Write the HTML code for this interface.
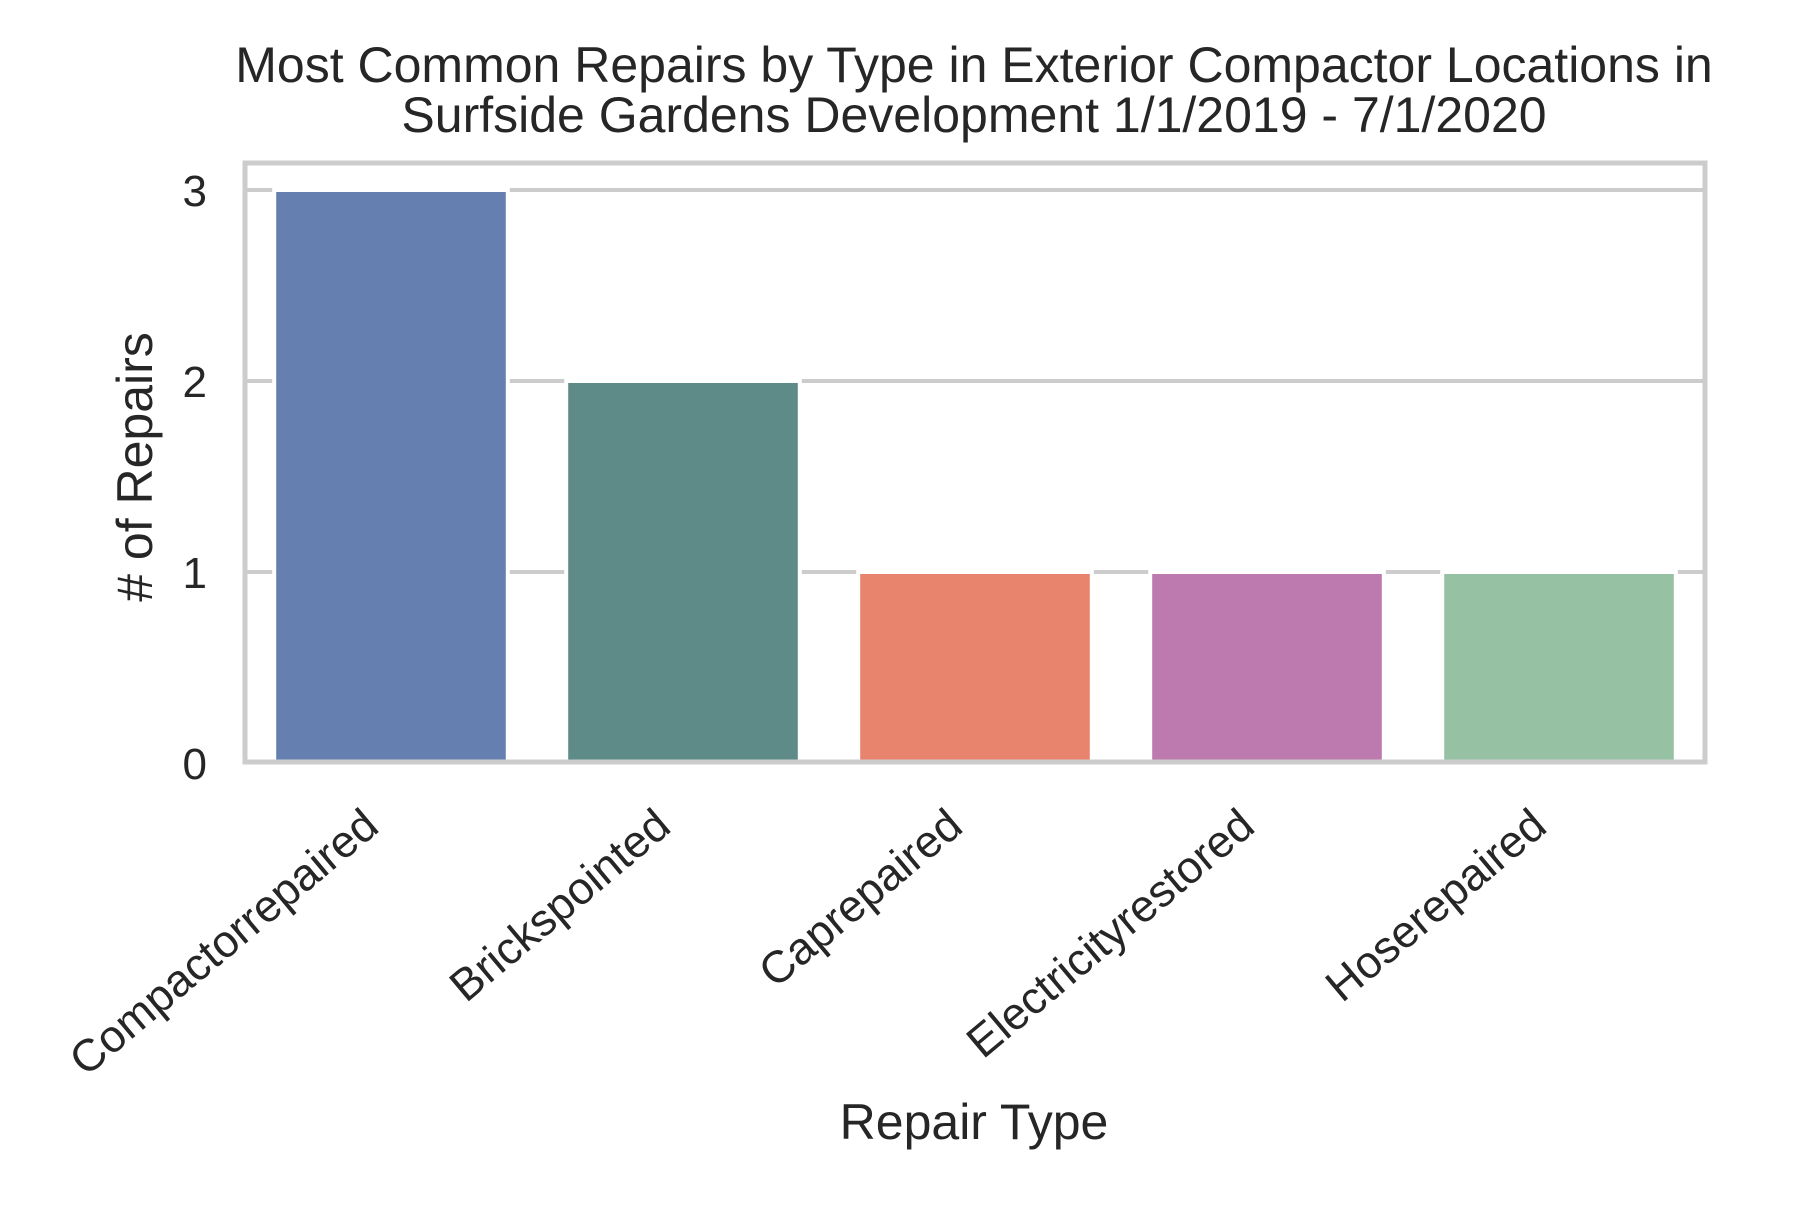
<!DOCTYPE html>
<html><head><meta charset="utf-8"><style>
html,body{margin:0;padding:0;background:#fff;}
svg text{font-family:"Liberation Sans",Arial,sans-serif;fill:#262626;}
</style></head><body>
<svg id="chart" width="1800" height="1200" viewBox="0 0 1800 1200" xmlns="http://www.w3.org/2000/svg">
<rect x="0" y="0" width="1800" height="1200" fill="#fff"/>
<g id="grid"></g>
<g id="bars"></g>
<rect x="245" y="163" width="1460" height="599" fill="none" stroke="#cccccc" stroke-width="5"/>
<g id="yticks"></g>
<g id="xticks"></g>
<text x="974" y="82" font-size="50" text-anchor="middle">Most Common Repairs by Type in Exterior Compactor Locations in</text>
<text x="974" y="132" font-size="50" text-anchor="middle">Surfside Gardens Development 1/1/2019 - 7/1/2020</text>
<text x="974" y="1139" font-size="50" text-anchor="middle">Repair Type</text>
<text x="0" y="0" font-size="50" text-anchor="middle" transform="translate(152,467) rotate(-90)"># of Repairs</text>
</svg>
<script>
const categories = ["Compactorrepaired","Brickspointed","Caprepaired","Electricityrestored","Hoserepaired"];
const repairCounts = [3,2,1,1,1];
const barColors = ["#6580b0","#5e8a87","#e8846e","#bc7aae","#96c1a3"];
const yTicks = [0,1,2,3];

const NS="http://www.w3.org/2000/svg";
const left=245,right=1705,y0=763,unit=191;
const band=(right-left)/categories.length;
const xC=i=>left+band*(i+0.5);
const yS=v=>y0-v*unit;
const bw=band*0.8;
const grid=document.getElementById('grid'),bars=document.getElementById('bars'),
yt=document.getElementById('yticks'),xt=document.getElementById('xticks');
yTicks.forEach(t=>{
  if(t>0){
    const l=document.createElementNS(NS,'line');
    
    
    l.setAttribute('x1',left);l.setAttribute('x2',right);
    l.setAttribute('y1',yS(t));l.setAttribute('y2',yS(t));
    l.setAttribute('stroke','#cccccc');l.setAttribute('stroke-width','4');
    grid.appendChild(l);
  }
  const tx=document.createElementNS(NS,'text');
  
  
  tx.setAttribute('x',207);tx.setAttribute('y',yS(t)+16);
  tx.setAttribute('font-size','44');tx.setAttribute('text-anchor','end');
  tx.textContent=t;yt.appendChild(tx);
});
categories.forEach((c,i)=>{
  const r=document.createElementNS(NS,'rect');
  
  
  r.setAttribute('x',xC(i)-bw/2);r.setAttribute('width',bw);
  r.setAttribute('y',yS(repairCounts[i]));r.setAttribute('height',y0-yS(repairCounts[i]));
  r.setAttribute('fill',barColors[i]);r.setAttribute('stroke','#fff');r.setAttribute('stroke-width','4');
  bars.appendChild(r);
  const tx=document.createElementNS(NS,'text');
  
  
  tx.setAttribute('font-size','45');tx.setAttribute('text-anchor','end');
  tx.setAttribute('transform','translate('+(xC(i)-10)+',830) rotate(-40)');
  tx.textContent=c;xt.appendChild(tx);
});
</script>
</body></html>
